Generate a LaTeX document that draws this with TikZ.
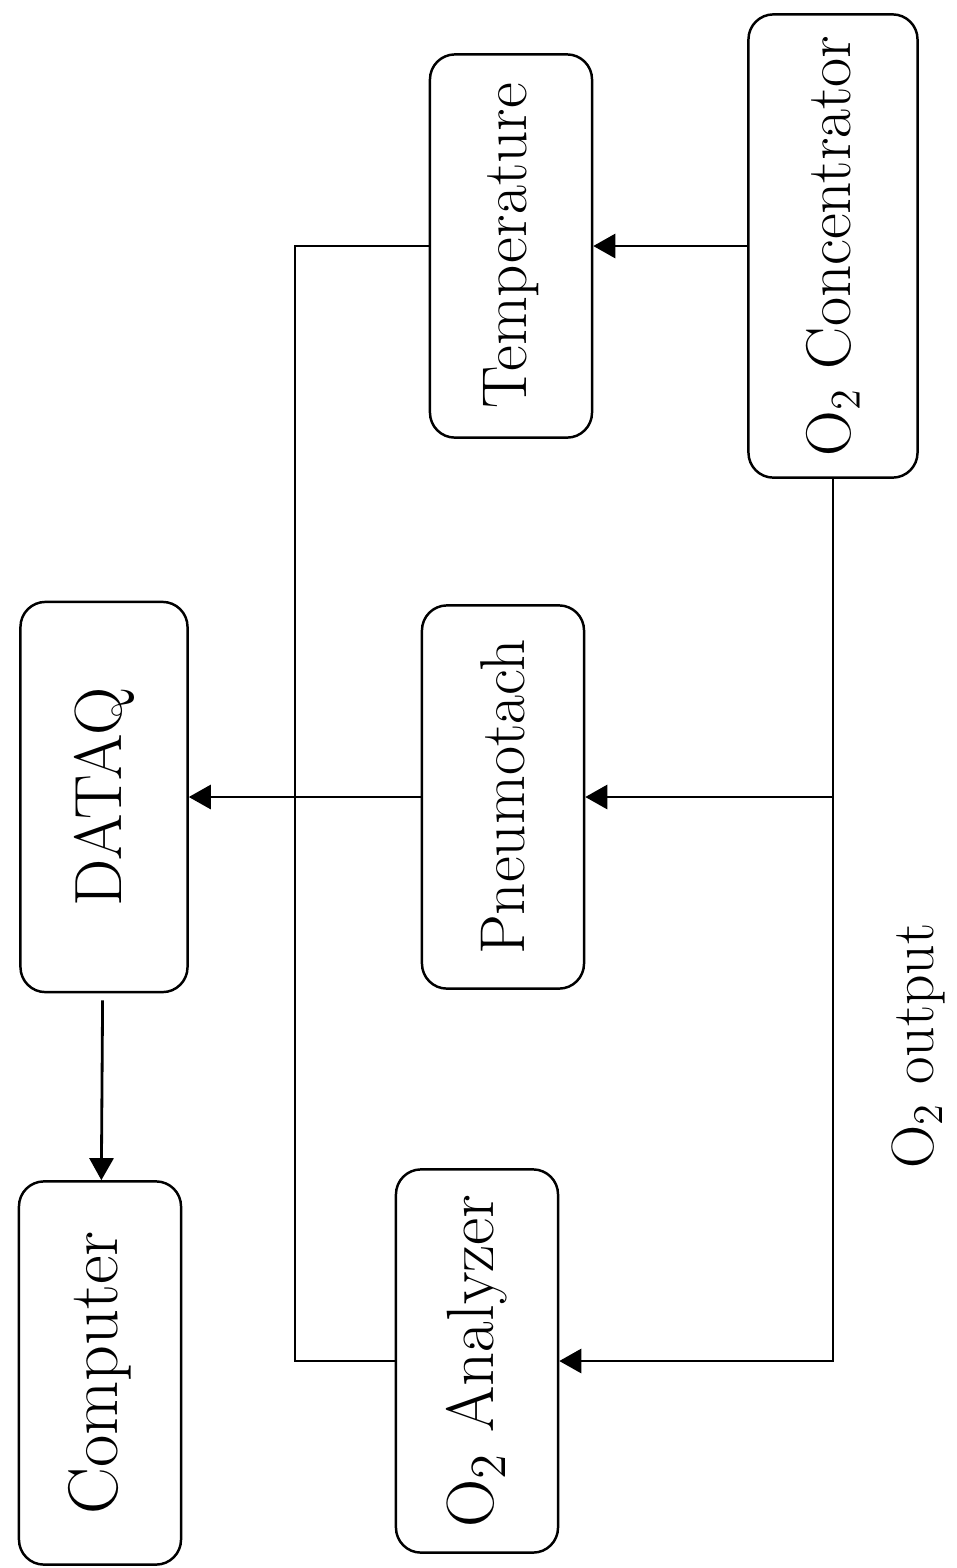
\documentclass[tikz,border=0pt]{standalone}
\usetikzlibrary{arrows.meta}
\tikzstyle{blk}=[shape=rectangle,draw,rounded corners=0.25cm,line width=0.7pt,rotate=90,minimum width=3.83cm,minimum height=1.62cm,inner sep=0pt,font=\fontsize{18}{20}\selectfont]
\tikzstyle{flow}=[-{Triangle[length=2.2mm,width=2.4mm]},line width=0.8pt]
\tikzstyle{back}=[{Triangle[length=2.2mm,width=2.4mm]}-,line width=0.8pt]
\tikzstyle{common}=[line width=0.8pt]

\begin{document}
\begin{tikzpicture}[x=0.01cm,y=-0.01cm]
            \useasboundingbox (0,0) rectangle (957,1568);
            \node[blk] (T) at (511, 246) {Temperature}
            ;
            \node[blk,minimum width=4.63cm,minimum height=1.69cm] (K) at (833, 246) {O$_2$ Concentrator}
                edge[flow] (T)
            ;
            \node[blk,minimum width=3.9cm,minimum height=1.67cm,font=\fontsize{19}{21}\selectfont] (D) at (104, 797) {DATAQ}
            ;
            \node[blk] (P) at (503, 797) {Pneumotach}
                edge[flow] (D)
            ;
            \node[blk,font=\fontsize{20}{22}\selectfont] (C) at (100, 1373) {Computer}
                edge[back, shorten >=2pt] (D)
            ;
            \node[blk,font=\fontsize{19}{21}\selectfont] (A) at (477, 1361) {O$_2$ Analyzer}
            ;
            \node[rotate=90,font=\fontsize{17}{19}\selectfont] (Q) at (918, 1046) {O$_2$ output}
            ;
            \coordinate (L) at (295, 246);
            \draw[common] (T) -- (L) |- (A);
            \draw[flow] (K.west) |- (A);
            \draw[flow] (K.west |- P) -- (P);
        \end{tikzpicture}
\end{document}
